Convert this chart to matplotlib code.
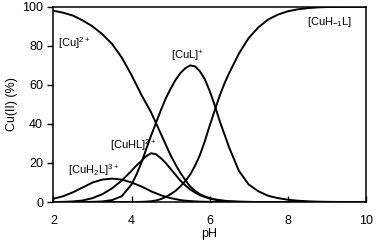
import matplotlib
matplotlib.use("Agg")
from matplotlib import pyplot as plt

plt.rcParams['font.family'] = ['Liberation Sans', 'DejaVu Sans']
plt.rcParams['mathtext.fontset'] = 'custom'
plt.rcParams['mathtext.rm'] = 'Liberation Sans'
plt.rcParams['mathtext.it'] = 'Liberation Sans'

# pH grid (finer where the curves bend most)
ph = [2.0, 2.25, 2.5, 2.75, 3.0, 3.25, 3.5, 3.75,
      4.0, 4.125, 4.25, 4.375, 4.5, 4.625, 4.75, 4.875, 5.0, 5.125, 5.25,
      5.375, 5.5, 5.625, 5.75, 5.875, 6.0, 6.125, 6.25, 6.375, 6.5,
      6.75, 7.0, 7.25, 7.5, 7.75, 8.0, 8.25, 8.5, 8.75, 9.0, 9.5, 10.0]

cu = [98, 97, 95.5, 93, 90, 86, 81, 74,
      65, 60, 55, 50.5, 46, 40.5, 35, 29.5, 24, 19.3, 15,
      11.3, 8, 5.8, 4, 2.9, 2, 1.4, 1, 0.7, 0.4,
      0.2, 0.1, 0, 0, 0, 0, 0, 0, 0, 0, 0, 0]
cuh2l = [1.7, 3, 5, 7.5, 10, 11.5, 12, 11.5,
         10, 9, 8, 6.8, 5.5, 4.5, 3.5, 2.7, 2, 1.5, 1,
         0.7, 0.5, 0.35, 0.2, 0.15, 0.1, 0.05, 0, 0, 0,
         0, 0, 0, 0, 0, 0, 0, 0, 0, 0, 0, 0]
cuhl = [0, 0.1, 0.3, 0.8, 2, 4, 7, 11,
        16, 18.7, 21, 23.5, 25, 24.5, 22.5, 20, 17, 14, 11,
        8.6, 6.5, 4.9, 3.5, 2.6, 1.8, 1.3, 0.8, 0.5, 0.3,
        0.1, 0, 0, 0, 0, 0, 0, 0, 0, 0, 0, 0]
cul = [0, 0, 0, 0, 0.1, 0.3, 1, 3,
       9, 14, 20, 27, 34, 40.5, 47, 53, 58, 62.5, 66,
       68.5, 70, 69.5, 67, 63, 57, 50, 42, 35, 28,
       16, 9, 5.5, 3.2, 2, 1.2, 0.7, 0.4, 0.2, 0.1, 0, 0]
cuh1l = [0, 0, 0, 0, 0, 0, 0, 0,
         0, 0, 0.1, 0.2, 0.4, 0.8, 1.5, 2.6, 4, 5.7, 8,
         10.7, 14, 18.5, 24, 31, 39, 46.5, 54, 60.5, 66,
         76, 84, 89.5, 93.5, 96, 97.7, 98.7, 99.3, 99.7, 99.9, 100, 100]

labels = [r'[Cu]$^{2+}$', r'[CuH$_2$L]$^{3+}$', r'[CuHL]$^{2+}$',
          r'[CuL]$^{+}$', r'[CuH$_{-1}$L]']
label_pos = [(2.12, 77.5), (2.38, 12.5), (3.45, 25), (5.02, 70.5), (8.5, 88.5)]

fig = plt.figure(figsize=(3.78, 2.44), dpi=100)
ax = fig.add_axes([0.1415, 0.172, 0.826, 0.8])

for series in [cu, cuh2l, cuhl, cul, cuh1l]:
    ax.plot(ph, series, color='black', lw=1.4)

for text, (x, y) in zip(labels, label_pos):
    ax.text(x, y, text, fontsize=8, ha='left', va='bottom')

ax.set_xlim(2, 10)
ax.set_ylim(0, 100)
ax.set_xticks([2, 4, 6, 8, 10])
ax.set_yticks([0, 20, 40, 60, 80, 100])
ax.tick_params(axis='x', direction='in', length=4, width=1, labelsize=9, pad=9)
ax.tick_params(axis='y', direction='out', length=4, width=1, labelsize=9)
for s in ax.spines.values():
    s.set_linewidth(1.1)
ax.set_xlabel('pH', fontsize=9, labelpad=1)
ax.set_ylabel('Cu(II) (%)', fontsize=9, labelpad=3)

plt.savefig('out.png', dpi=100)
